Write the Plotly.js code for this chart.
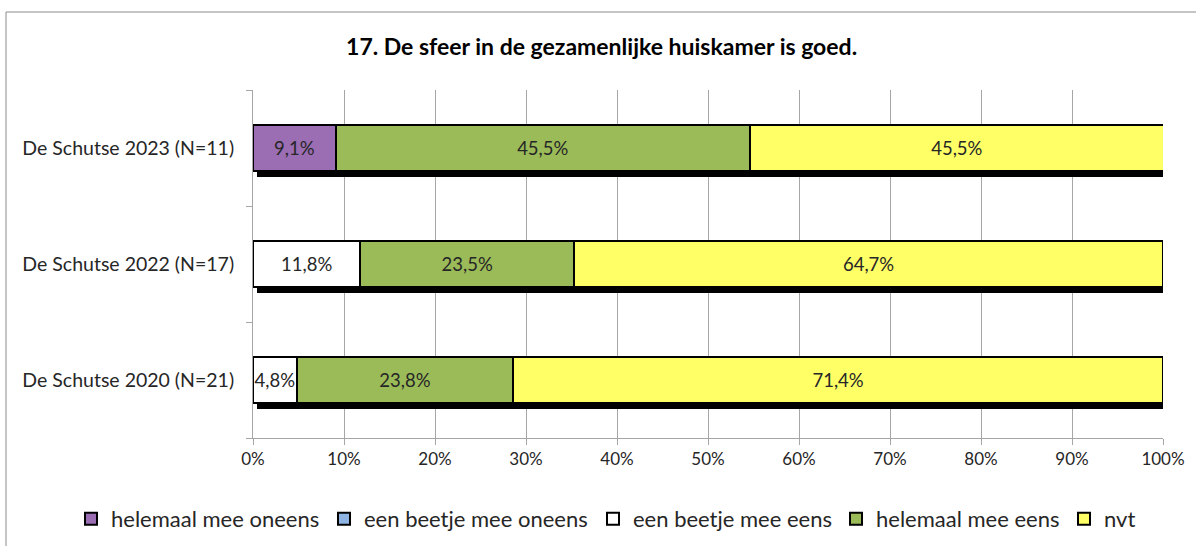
<!DOCTYPE html>
<html>
<head>
<meta charset="utf-8">
<script src="https://cdn.plot.ly/plotly-3.0.1.min.js"></script>
<style>
  html, body { margin: 0; padding: 0; background: #fff; }
  #chart { width: 1196px; height: 546px; }
</style>
</head>
<body>
<div id="chart"></div>
<script>
// ---- data (bottom to top) ----
const categories = ["De Schutse 2020 (N=21)", "De Schutse 2022 (N=17)", "De Schutse 2023 (N=11)"];
const seriesNames = ["helemaal mee oneens", "een beetje mee oneens", "een beetje mee eens", "helemaal mee eens", "nvt"];
const helemaalMeeOneens = [0, 0, 9.1];
const eenBeetjeMeeOneens = [0, 0, 0];
const eenBeetjeMeeEens = [4.8, 11.8, 0];
const helemaalMeeEens = [23.8, 23.5, 45.5];
const nvt = [71.4, 64.7, 45.5];
const xTickValues = [0, 10, 20, 30, 40, 50, 60, 70, 80, 90, 100];
const titleText = "17. De sfeer in de gezamenlijke huiskamer is goed.";

const seriesValues = [helemaalMeeOneens, eenBeetjeMeeOneens, eenBeetjeMeeEens, helemaalMeeEens, nvt];
const seriesColors = ["#9b6db3", "#8db4e2", "#ffffff", "#9bbb59", "#ffff66"];
// left edge (px) of each legend entry
const legendLefts = [71, 324, 593, 836, 1064];

const FONT = "Lato, 'Noto Sans', sans-serif";
const TXT = "#262626";
const GRID = "#a6a6a6";
const BARW = 0.4;

function label(v) {
  return v > 0 ? v.toFixed(1).replace(".", ",") + "%" : "";
}
const legendIds = seriesNames.map((n, k) => k === 0 ? "legend" : "legend" + (k + 1));

// shadow trace (drawn first, on base axes with offset ranges)
const totals = categories.map((c, i) => seriesValues.reduce((s, arr) => s + arr[i], 0));
const traces = [{
  type: "bar", orientation: "h",
  y: categories, x: totals,
  xaxis: "x", yaxis: "y",
  width: BARW,
  marker: { color: "#000000", line: { width: 0 } },
  showlegend: false, hoverinfo: "skip"
}];

seriesNames.forEach((name, k) => {
  traces.push({
    type: "bar", orientation: "h",
    name: name,
    legend: legendIds[k],
    y: categories, x: seriesValues[k],
    xaxis: "x2", yaxis: "y2",
    width: BARW,
    text: seriesValues[k].map(label),
    textposition: "inside",
    insidetextanchor: "middle",
    textangle: 0,
    constraintext: "none",
    textfont: { family: FONT, size: 18.5, color: TXT },
    marker: { color: seriesColors[k], line: { color: "#000000", width: 2 } }
  });
});

const layout = {
  width: 1196, height: 546,
  paper_bgcolor: "#ffffff", plot_bgcolor: "rgba(0,0,0,0)",
  margin: { l: 253, r: 33, t: 90, b: 108 },
  barmode: "stack",
  bargap: 0.6,
  showlegend: true,
  font: { family: FONT, color: TXT },
  title: {
    text: "<b>" + titleText + "</b>",
    font: { family: FONT, size: 23, color: "#000000" },
    xref: "container", x: 0.503, xanchor: "center",
    yref: "container", y: 1 - 47 / 546, yanchor: "middle"
  },
  // base axes: hidden, shifted to offset the shadow
  xaxis: {
    range: [-0.44, 99.56], visible: false, fixedrange: true
  },
  yaxis: {
    type: "category", categoryorder: "array", categoryarray: categories,
    range: [-0.448, 2.552], visible: false, fixedrange: true
  },
  // visible axes carrying the real bars
  xaxis2: {
    overlaying: "x", anchor: "y2", side: "bottom",
    range: [0, 100], tickvals: xTickValues, ticktext: xTickValues.map(v => v + "%"),
    showgrid: true, gridcolor: GRID, gridwidth: 1,
    showline: true, linecolor: GRID, linewidth: 1,
    ticks: "outside", ticklen: 6, tickcolor: GRID,
    zeroline: false,
    tickfont: { family: FONT, size: 17, color: TXT }
  },
  yaxis2: {
    overlaying: "y", anchor: "x2",
    type: "category", categoryorder: "array", categoryarray: categories,
    range: [-0.5, 2.5],
    showgrid: false, showline: true, linecolor: GRID, linewidth: 1,
    ticks: "outside", tickson: "boundaries", ticklen: 6, tickcolor: GRID,
    ticklabelstandoff: 14,
    zeroline: false,
    tickfont: { family: FONT, size: 19.5, color: TXT }
  },
  shapes: [{
    type: "rect", xref: "paper", yref: "paper",
    x0: (6 - 253) / 910, x1: 1.2, y0: -0.6, y1: (438 - 12) / 348,
    line: { color: "#8c8c8c", width: 1 }, fillcolor: "rgba(0,0,0,0)", layer: "below"
  }]
};

legendIds.forEach((id, k) => {
  layout[id] = {
    orientation: "h",
    xref: "container", x: legendLefts[k] / 1196, xanchor: "left",
    yref: "container", y: 1 - 519 / 546, yanchor: "middle",
    font: { family: FONT, size: 22, color: TXT },
    itemwidth: 30, bgcolor: "rgba(0,0,0,0)"
  };
});

Plotly.newPlot("chart", traces, layout, { staticPlot: true, displayModeBar: false });
</script>
</body>
</html>
